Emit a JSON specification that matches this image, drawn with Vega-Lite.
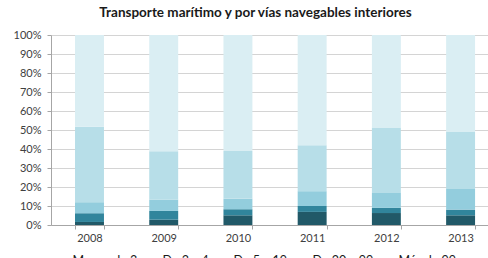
{
  "$schema": "https://vega.github.io/schema/vega-lite/v6.json",
  "autosize": {"type": "none"},
  "width": 437,
  "height": 190,
  "padding": {"left": 51, "top": 35, "right": 0, "bottom": 33},
  "background": "white",
  "title": {
    "text": "Transporte marítimo y por vías navegables interiores",
    "font": "Lato",
    "fontSize": 13.5,
    "fontWeight": "bold",
    "color": "#1a1a1a",
    "anchor": "middle",
    "frame": "group",
    "dx": -14,
    "offset": 10
  },
  "data": {
    "values": [
      {"year": "2008", "size": "Menos de 3", "ord": 1, "pct": 1.6},
      {"year": "2008", "size": "De 3 a 4", "ord": 2, "pct": 4.6},
      {"year": "2008", "size": "De 5 a 19", "ord": 3, "pct": 5.8},
      {"year": "2008", "size": "De 20 a 99", "ord": 4, "pct": 39.7},
      {"year": "2008", "size": "Más de 99", "ord": 5, "pct": 48.3},
      {"year": "2009", "size": "Menos de 3", "ord": 1, "pct": 2.8},
      {"year": "2009", "size": "De 3 a 4", "ord": 2, "pct": 4.6},
      {"year": "2009", "size": "De 5 a 19", "ord": 3, "pct": 6.0},
      {"year": "2009", "size": "De 20 a 99", "ord": 4, "pct": 25.4},
      {"year": "2009", "size": "Más de 99", "ord": 5, "pct": 61.2},
      {"year": "2010", "size": "Menos de 3", "ord": 1, "pct": 5.1},
      {"year": "2010", "size": "De 3 a 4", "ord": 2, "pct": 3.2},
      {"year": "2010", "size": "De 5 a 19", "ord": 3, "pct": 5.6},
      {"year": "2010", "size": "De 20 a 99", "ord": 4, "pct": 25.1},
      {"year": "2010", "size": "Más de 99", "ord": 5, "pct": 61.0},
      {"year": "2011", "size": "Menos de 3", "ord": 1, "pct": 6.9},
      {"year": "2011", "size": "De 3 a 4", "ord": 2, "pct": 3.1},
      {"year": "2011", "size": "De 5 a 19", "ord": 3, "pct": 7.8},
      {"year": "2011", "size": "De 20 a 99", "ord": 4, "pct": 24.2},
      {"year": "2011", "size": "Más de 99", "ord": 5, "pct": 58.0},
      {"year": "2012", "size": "Menos de 3", "ord": 1, "pct": 6.3},
      {"year": "2012", "size": "De 3 a 4", "ord": 2, "pct": 2.7},
      {"year": "2012", "size": "De 5 a 19", "ord": 3, "pct": 7.9},
      {"year": "2012", "size": "De 20 a 99", "ord": 4, "pct": 34.4},
      {"year": "2012", "size": "Más de 99", "ord": 5, "pct": 48.7},
      {"year": "2013", "size": "Menos de 3", "ord": 1, "pct": 5.1},
      {"year": "2013", "size": "De 3 a 4", "ord": 2, "pct": 3.0},
      {"year": "2013", "size": "De 5 a 19", "ord": 3, "pct": 10.9},
      {"year": "2013", "size": "De 20 a 99", "ord": 4, "pct": 30.0},
      {"year": "2013", "size": "Más de 99", "ord": 5, "pct": 51.0}
    ]
  },
  "mark": {"type": "bar"},
  "encoding": {
    "x": {
      "field": "year",
      "type": "nominal",
      "scale": {"paddingInner": 0.61, "paddingOuter": 0.249, "align": 0.65},
      "axis": {
        "title": null,
        "labelAngle": 0,
        "labelFont": "Lato",
        "labelFontSize": 11,
        "labelColor": "#404040",
        "labelPadding": 3,
        "domainColor": "#a6a6a6",
        "tickColor": "#a6a6a6",
        "tickSize": 4,
        "tickBand": "extent",
        "grid": false
      }
    },
    "y": {
      "field": "pct",
      "type": "quantitative",
      "stack": true,
      "scale": {"domain": [0, 100], "nice": false},
      "axis": {
        "title": null,
        "values": [0, 10, 20, 30, 40, 50, 60, 70, 80, 90, 100],
        "labelExpr": "datum.value + '%'",
        "labelFont": "Lato",
        "labelFontSize": 11,
        "labelColor": "#404040",
        "labelPadding": 6,
        "domainColor": "#a6a6a6",
        "tickColor": "#a6a6a6",
        "tickSize": 4,
        "grid": true,
        "gridColor": "#d4d4d4",
        "gridWidth": 1.2
      }
    },
    "color": {
      "field": "size",
      "type": "nominal",
      "scale": {
        "domain": ["Menos de 3", "De 3 a 4", "De 5 a 19", "De 20 a 99", "Más de 99"],
        "range": ["#215968", "#31859c", "#93cddd", "#b7dee8", "#daeef3"]
      },
      "legend": {
        "title": null,
        "orient": "none",
        "direction": "horizontal",
        "legendX": 7,
        "legendY": 220,
        "symbolType": "square",
        "symbolSize": 36,
        "symbolStrokeWidth": 0,
        "labelOffset": 2,
        "labelFont": "Lato",
        "labelFontSize": 12.5,
        "labelColor": "#1a1a1a",
        "columnPadding": 10
      }
    },
    "order": {"field": "ord", "type": "quantitative"}
  },
  "config": {"view": {"stroke": null}}
}
